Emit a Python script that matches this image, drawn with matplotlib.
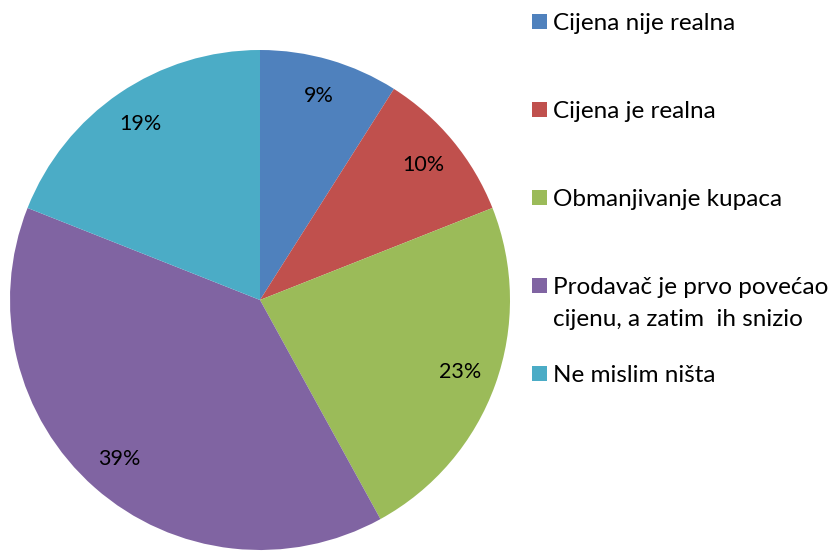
import matplotlib
matplotlib.use("Agg")
import matplotlib.pyplot as plt
from matplotlib.patches import Rectangle

labels = ["Cijena nije realna", "Cijena je realna", "Obmanjivanje kupaca",
          "Prodavač je prvo povećao\ncijenu, a zatim  ih snizio", "Ne mislim ništa"]
shares = [9, 10, 23, 39, 19]
colors = ["#4F81BD", "#C0504D", "#9BBB59", "#8064A2", "#4BACC6"]

plt.rcParams["font.family"] = ["Lato", "DejaVu Sans"]

W, H = 833, 551
fig = plt.figure(figsize=(W / 100, H / 100), dpi=100)
ax = fig.add_axes([10 / W, 1 / H, 500 / W, 500 / H])

wedges, texts, autotexts = ax.pie(
    shares, colors=colors, startangle=90, counterclock=False,
    autopct="%d%%", pctdistance=0.85, radius=1.0,
    wedgeprops=dict(linewidth=0),
    textprops=dict(fontsize=15.5, color="black"))
ax.set_xlim(-1, 1)
ax.set_ylim(-1, 1)
ax.set_aspect("equal")

# legend drawn by hand: fixed 88 px pitch, two-line label spills into the gap
for i, (lab, col) in enumerate(zip(labels, colors)):
    yc = 21.5 + 88 * i
    fig.patches.append(Rectangle((532 / W, 1 - (yc + 7.5) / H), 15 / W, 15 / H,
                                 transform=fig.transFigure, facecolor=col,
                                 edgecolor="none"))
    for j, line in enumerate(lab.split("\n")):
        fig.text(553 / W, 1 - (yc + 8.5 + 32 * j) / H, line, fontsize=17.5,
                 va="baseline", ha="left")

fig.savefig("out.png", dpi=100)
